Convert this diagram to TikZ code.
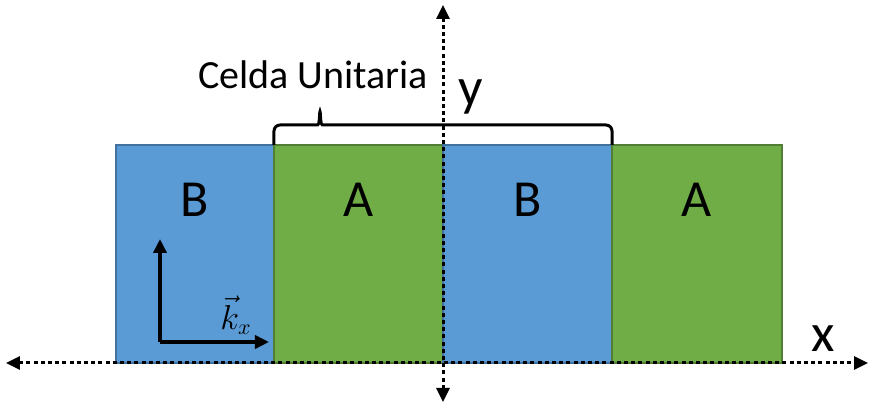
\documentclass[tikz,border=0pt]{standalone}
\usepackage{fontspec}
\setmainfont{Carlito}
\usetikzlibrary{arrows.meta, positioning}

\definecolor{cellblue}{HTML}{5B9BD5}
\definecolor{cellblueedge}{HTML}{41719C}
\definecolor{cellgreen}{HTML}{70AD47}
\definecolor{cellgreenedge}{HTML}{507E32}

\begin{document}
\begin{tikzpicture}[
  x=0.5pt, y=0.5pt,
  cellB/.style={rectangle, draw=cellblueedge, fill=cellblue, line width=1pt, minimum height=109pt, anchor=south west, inner sep=0pt, outer sep=0pt},
  cellA/.style={rectangle, draw=cellgreenedge, fill=cellgreen, line width=1pt, minimum height=109pt, anchor=south west, inner sep=0pt, outer sep=0pt},
  lbl/.style={font=\fontsize{26}{31}\selectfont, inner sep=0pt},
  axislbl/.style={font=\fontsize{27}{32}\selectfont, inner sep=0pt},
  axis/.style={{Triangle[length=7pt,width=6.5pt]}-{Triangle[length=7pt,width=6.5pt]}, line width=1.5pt, dash pattern=on 2pt off 1.6pt},
  karrow/.style={-{Triangle[length=7pt,width=6.5pt]}, line width=2pt},
  cellbrace/.style={line width=1.5pt, rounded corners=3pt}
]
\useasboundingbox (-443,-42) rectangle (428,363);

% Cells
\node[cellB, minimum width=79pt] (b1) at (-327,0) {};
\node[cellA, minimum width=84.5pt] (a1) at (-169,0) {};
\node[cellB, minimum width=84.5pt] (b2) at (0,0) {};
\node[cellA, minimum width=85pt] (a2) at (169,0) {};

% Cell labels
\node[lbl] (lb1) at (-248,163) {B};
\node[lbl] (la1) at (-84,163) {A};
\node[lbl] (lb2) at (85,163) {B};
\node[lbl] (la2) at (254,163) {A};

% Unit cell
\coordinate (tip) at (-123,255);
\draw[cellbrace] (a1.north west) -- (-169,238) -- (-133,238)
  .. controls (-124,238) .. (tip)
  .. controls (-122,238) .. (-113,238)
  -- (169,238) -- (b2.north east);
\node[font=\fontsize{20}{24}\selectfont, inner sep=0pt] (celda) at (-130,288) {Celda Unitaria};

% Wave vector
\coordinate (k0) at (-283,21);
\coordinate (kup) at (-283,124);
\coordinate (kright) at (-174,21);
\draw[karrow] (k0) -- (kup);
\draw[karrow] (k0) -- (kright);
\node[font=\fontsize{16}{19}\selectfont, inner sep=0pt] (kx) at (-207,48) {$\vec{k}_x$};

% Axes
\coordinate (xl) at (-437,0);
\coordinate (xr) at (425,0);
\coordinate (yb) at (0,-39);
\coordinate (yt) at (0,358);
\draw[axis] (xl) -- (xr);
\draw[axis] (yb) -- (yt);
\node[axislbl] (xlbl) at (380,24) {x};
\node[axislbl] (ylbl) at (28,266) {y};

\end{tikzpicture}
\end{document}
